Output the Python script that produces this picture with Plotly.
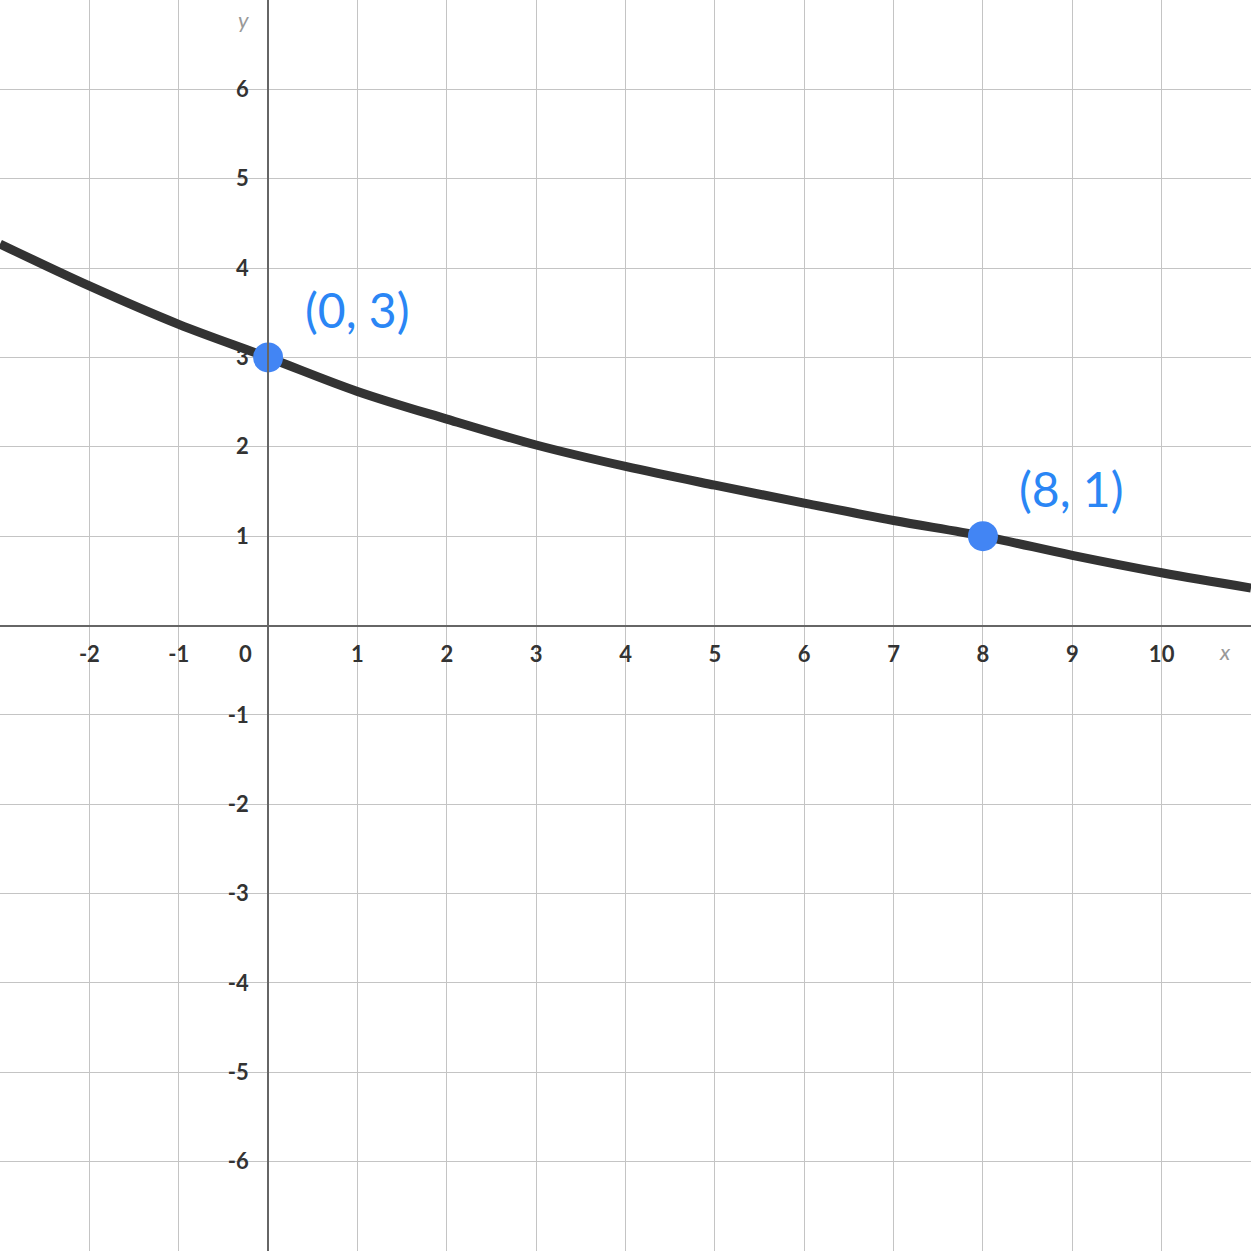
import plotly.graph_objects as go

# Curve at each integer x
curve_x = [-3, -2, -1, 0, 1, 2, 3, 4, 5, 6, 7, 8, 9, 10, 11]
curve_y = [4.27, 3.80, 3.37, 3.0, 2.62, 2.31, 2.02, 1.78, 1.57, 1.37, 1.175, 1.0, 0.785, 0.59, 0.42]

# Highlighted points and their labels
point_x = [0, 8]
point_y = [3, 1]
point_labels = ["(0, 3)", "(8, 1)"]

# Axis ticks
x_ticks = [-2, -1, 1, 2, 3, 4, 5, 6, 7, 8, 9, 10]
y_ticks = [-6, -5, -4, -3, -2, -1, 1, 2, 3, 4, 5, 6]

X_RANGE = [-3, 11]
Y_RANGE = [-7, 7]

TICK_FONT = dict(family="Lato", size=22, color="#333333", weight="bold")
BLUE = "#4285f4"
LABEL_BLUE = "#2a86f5"

fig = go.Figure()

fig.add_trace(go.Scatter(
    x=curve_x, y=curve_y, mode="lines",
    line=dict(color="#333333", width=9, shape="spline", smoothing=1.0),
    hoverinfo="skip", showlegend=False,
))

fig.add_trace(go.Scatter(
    x=point_x, y=point_y, mode="markers",
    marker=dict(color=BLUE, size=30, line=dict(width=0)),
    showlegend=False,
))

# point labels
for px_, py_, lab in zip(point_x, point_y, point_labels):
    fig.add_annotation(
        x=px_, y=py_, text=lab, showarrow=False,
        xshift=89, yshift=48,
        font=dict(family="Lato", size=48, color=LABEL_BLUE),
    )

# origin label
fig.add_annotation(x=0, y=0, text="0", showarrow=False, xshift=-23, yshift=-28,
                   font=TICK_FONT)

# axis names
fig.add_annotation(x=X_RANGE[1], y=0, text="x", showarrow=False, xshift=-26, yshift=-26,
                   font=dict(family="Lato", size=22, color="#999999", style="italic"))
fig.add_annotation(x=0, y=Y_RANGE[1], text="y", showarrow=False, xshift=-25, yshift=-19,
                   font=dict(family="Lato", size=22, color="#999999", style="italic"))

fig.update_layout(
    width=1251, height=1251,
    margin=dict(l=0, r=0, t=0, b=0),
    template="none",
    paper_bgcolor="white", plot_bgcolor="white",
    showlegend=False,
    xaxis=dict(
        range=X_RANGE, dtick=1, tick0=0,
        showgrid=True, gridcolor="#c4c4c4", gridwidth=1,
        zeroline=False,
        tickvals=x_ticks, ticktext=[str(v) for v in x_ticks],
        ticks="outside", ticklen=9, tickcolor="rgba(0,0,0,0)",
        tickfont=TICK_FONT,
        anchor="free", position=(0 - Y_RANGE[0]) / (Y_RANGE[1] - Y_RANGE[0]),
        showline=True, linecolor="#666666", linewidth=2,
        fixedrange=True,
    ),
    yaxis=dict(
        range=Y_RANGE, dtick=1, tick0=0,
        showgrid=True, gridcolor="#c4c4c4", gridwidth=1,
        zeroline=False,
        tickvals=y_ticks, ticktext=[str(v) for v in y_ticks],
        ticks="outside", ticklen=14, tickcolor="rgba(0,0,0,0)",
        tickfont=TICK_FONT,
        anchor="free", position=(0 - X_RANGE[0]) / (X_RANGE[1] - X_RANGE[0]),
        showline=True, linecolor="#666666", linewidth=2,
        fixedrange=True,
    ),
)

# drop the page's default body margin so the chart sits flush in the window
fig.write_html("out.html", config={"displayModeBar": False},
               post_script="document.body.style.margin='0';")
